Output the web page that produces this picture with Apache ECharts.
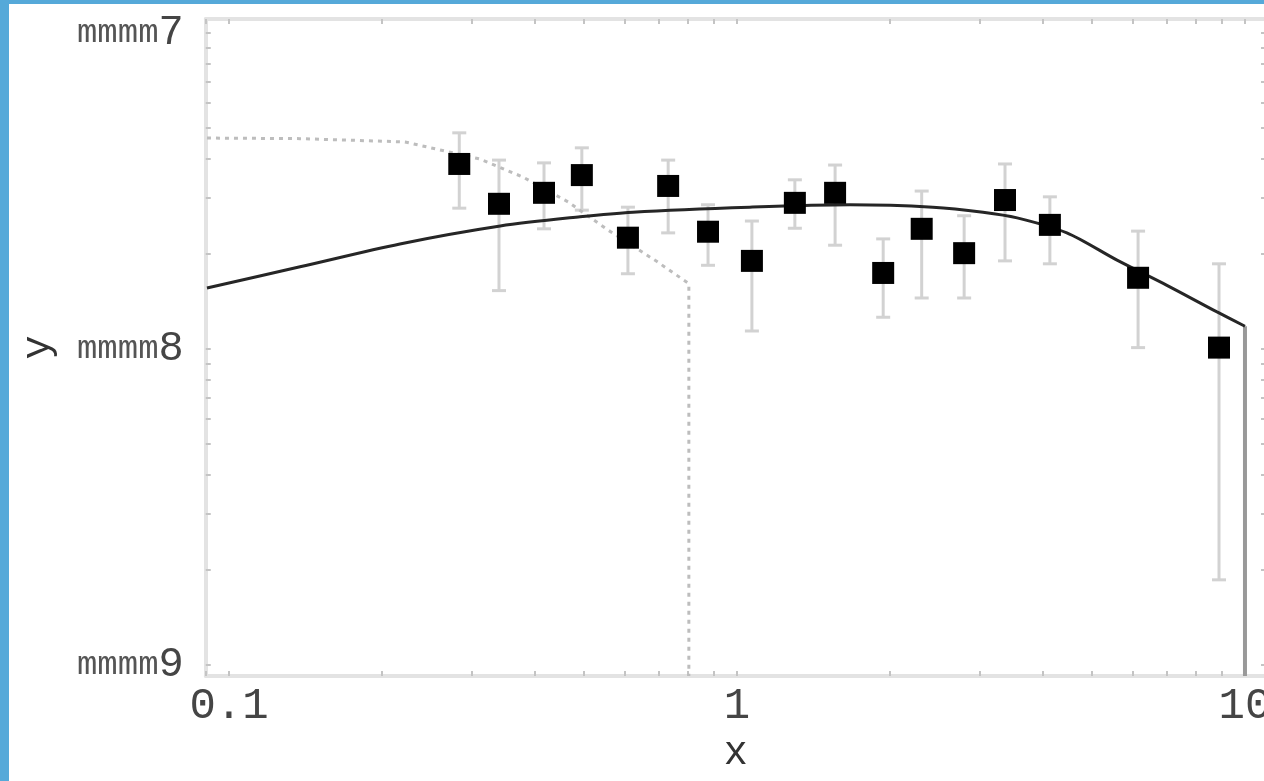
<!DOCTYPE html>
<html>
<head>
<meta charset="utf-8">
<script src="https://cdn.jsdelivr.net/npm/echarts@6/dist/echarts.min.js"></script>
<style>
  html, body { margin: 0; padding: 0; background: #fff; }
  #chart { position: absolute; left: 0; top: 0; width: 1264px; height: 781px; }
  .edge { position: absolute; background: #55a9d9; z-index: 5; }
</style>
</head>
<body>
<div id="chart"></div>
<div class="edge" style="left:0;top:0;width:9px;height:781px"></div>
<div class="edge" style="left:0;top:0;width:1264px;height:4px"></div>
<script>
// Axis ticks and labels
const xTicks = [0.1, 1, 10];
const xTickLabels = ['0.1', '1', '10'];
const yTicks = [1e-9, 1e-8, 1e-7];
const yTickLabels = ['mmmm9', 'mmmm8', 'mmmm7'];
const xRange = [0.09, 11];
const yRange = [9.23e-10, 1.107e-7];

// Measured points with their error ranges
const pointX = [0.284, 0.340, 0.417, 0.495, 0.610, 0.732, 0.877, 1.07, 1.30, 1.56, 1.94, 2.31, 2.80, 3.37, 4.13, 6.16, 8.89];
const pointY = [3.85e-8, 2.88e-8, 3.12e-8, 3.55e-8, 2.25e-8, 3.28e-8, 2.35e-8, 1.90e-8, 2.90e-8, 3.12e-8, 1.74e-8, 2.40e-8, 2.01e-8, 2.96e-8, 2.47e-8, 1.68e-8, 1.01e-8];
const errLow = [2.79e-8, 1.53e-8, 2.40e-8, 2.75e-8, 1.73e-8, 2.33e-8, 1.84e-8, 1.14e-8, 2.41e-8, 2.13e-8, 1.26e-8, 1.45e-8, 1.45e-8, 1.90e-8, 1.86e-8, 1.01e-8, 1.86e-9];
const errHigh = [4.83e-8, 3.96e-8, 3.88e-8, 4.33e-8, 2.81e-8, 3.96e-8, 2.86e-8, 2.54e-8, 3.43e-8, 3.82e-8, 2.23e-8, 3.16e-8, 2.64e-8, 3.85e-8, 3.03e-8, 2.36e-8, 1.86e-8];

// Model curve, dropping to zero at its upper edge
const modelX = [0.0905, 0.138, 0.217, 0.342, 0.491, 0.624, 1.06, 1.67, 2.43, 3.05, 3.56, 4.46, 5.60, 7.02, 8.81, 10];
const modelY = [1.56e-8, 1.82e-8, 2.15e-8, 2.45e-8, 2.62e-8, 2.71e-8, 2.81e-8, 2.86e-8, 2.81e-8, 2.71e-8, 2.60e-8, 2.33e-8, 1.91e-8, 1.59e-8, 1.31e-8, 1.18e-8];

// Dotted limit curve, dropping to zero at its upper edge
const limitX = [0.0905, 0.138, 0.222, 0.266, 0.312, 0.379, 0.465, 0.557, 0.696, 0.804];
const limitY = [4.65e-8, 4.63e-8, 4.52e-8, 4.23e-8, 3.99e-8, 3.50e-8, 2.92e-8, 2.38e-8, 1.89e-8, 1.61e-8];

// Tick positions at 1..9 of every decade inside a range
function decadeTicks(range) {
  const out = [];
  for (let d = Math.floor(Math.log10(range[0])); d <= Math.ceil(Math.log10(range[1])); d++) {
    for (let k = 1; k <= 9; k++) {
      const v = k * Math.pow(10, d);
      if (v >= range[0] && v <= range[1]) out.push(v);
    }
  }
  return out;
}
function lookup(values, labels, v) {
  const i = values.findIndex(t => Math.abs(t - v) <= Math.abs(t) * 1e-6);
  return i < 0 ? '' : labels[i];
}

const FONT = "'Liberation Mono', 'DejaVu Sans Mono', monospace";
const frameLine = { show: true, lineStyle: { color: '#e3e3e3', width: 4 } };
const tickStyle = { show: true, inside: true, length: 5, lineStyle: { color: '#c4c4c4', width: 2 } };

function xAxisDef(position, withLabels) {
  return {
    type: 'log', logBase: 10, min: xRange[0], max: xRange[1], position: position,
    axisLine: frameLine,
    axisTick: Object.assign({ customValues: decadeTicks(xRange) }, tickStyle),
    axisLabel: withLabels ? {
      customValues: xTicks,
      formatter: v => lookup(xTicks, xTickLabels, v),
      fontFamily: FONT, fontSize: 44, color: '#454545', margin: 8
    } : { show: false },
    splitLine: { show: false }, minorTick: { show: false },
    name: withLabels ? 'x' : '', nameLocation: 'middle', nameGap: 57,
    nameTextStyle: { fontFamily: FONT, fontSize: 40, color: '#333' }
  };
}
function yAxisDef(position, withLabels) {
  return {
    type: 'log', logBase: 10, min: yRange[0], max: yRange[1], position: position,
    axisLine: frameLine,
    axisTick: Object.assign({ customValues: decadeTicks(yRange) }, tickStyle),
    axisLabel: withLabels ? {
      customValues: yTicks,
      formatter: v => {
        const s = lookup(yTicks, yTickLabels, v);
        return s ? '{m|' + s.slice(0, -1) + '}{d|' + s.slice(-1) + '}' : '';
      },
      rich: {
        m: { fontFamily: FONT, fontSize: 34, color: '#555' },
        d: { fontFamily: FONT, fontSize: 42, color: '#454545' }
      },
      margin: 22
    } : { show: false },
    splitLine: { show: false }, minorTick: { show: false },
    name: withLabels ? 'y' : '', nameLocation: 'middle', nameGap: 147, nameRotate: 90,
    nameTextStyle: { fontFamily: FONT, fontSize: 40, color: '#333' }
  };
}

const chart = echarts.init(document.getElementById('chart'), null, { renderer: 'canvas' });
chart.setOption({
  animation: false,
  backgroundColor: '#fff',
  grid: { left: 205.75, right: -2, top: 19, bottom: 105, outerBoundsMode: 'none', containLabel: false },
  xAxis: [xAxisDef('bottom', true), xAxisDef('top', false)],
  yAxis: [yAxisDef('left', true), yAxisDef('right', false)],
  series: [
    {
      type: 'custom', name: 'errors', z: 1,
      data: pointX.map((x, i) => [x, errLow[i], errHigh[i]]),
      encode: { x: 0, y: [1, 2] },
      renderItem: function (params, api) {
        const x = api.value(0);
        const lo = api.coord([x, api.value(1)]);
        const hi = api.coord([x, api.value(2)]);
        const h = 7;
        const style = { stroke: '#d2d2d2', lineWidth: 3, fill: null };
        return {
          type: 'group', children: [
            { type: 'line', shape: { x1: lo[0], y1: lo[1], x2: hi[0], y2: hi[1] }, style: style },
            { type: 'line', shape: { x1: lo[0] - h, y1: lo[1], x2: lo[0] + h, y2: lo[1] }, style: style },
            { type: 'line', shape: { x1: hi[0] - h, y1: hi[1], x2: hi[0] + h, y2: hi[1] }, style: style }
          ]
        };
      }
    },
    {
      type: 'line', name: 'limit', z: 2, symbol: 'none', clip: true,
      data: limitX.map((x, i) => [x, limitY[i]]).concat([[limitX[limitX.length - 1], yRange[0]]]),
      lineStyle: { color: '#bdbdbd', width: 3, type: [4, 5] }
    },
    {
      type: 'line', name: 'cutoff', z: 3, symbol: 'none', clip: true,
      data: [[modelX[modelX.length - 1], modelY[modelY.length - 1]], [modelX[modelX.length - 1], yRange[0]]],
      lineStyle: { color: '#999', width: 4 }
    },
    {
      type: 'line', name: 'model', z: 4, symbol: 'none', clip: true, smooth: 0.3,
      data: modelX.map((x, i) => [x, modelY[i]]),
      lineStyle: { color: '#262626', width: 3 }
    },
    {
      type: 'scatter', name: 'data', z: 5, symbol: 'rect', symbolSize: 22,
      data: pointX.map((x, i) => [x, pointY[i]]),
      itemStyle: { color: '#000', opacity: 1 }
    }
  ]
});
</script>
</body>
</html>
